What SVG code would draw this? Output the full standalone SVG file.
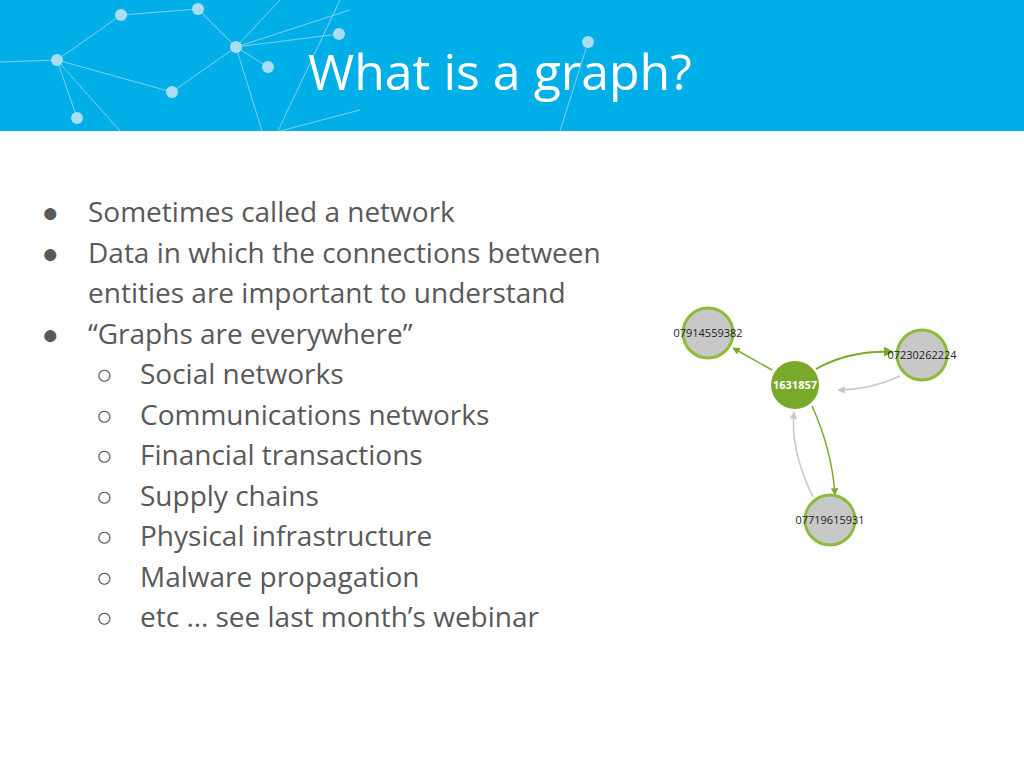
<svg xmlns="http://www.w3.org/2000/svg" width="1024" height="768" viewBox="0 0 1024 768">
<style>
.t{font-family:"Open Sans","Liberation Sans",sans-serif;font-size:28px;fill:#595959}
.l{font-family:"Open Sans","Liberation Sans",sans-serif;font-size:11px;fill:#222;text-anchor:middle}
.d{fill:#a8ddf3}
.dl{stroke:#7fd0ee;stroke-width:1;fill:none}
.n{fill:#c8c8c8;stroke:#8dbb3c;stroke-width:3}
</style>
<defs>
<marker id="ag" viewBox="0 0 10 10" refX="9" refY="5" markerWidth="5" markerHeight="5" orient="auto"><path d="M0,0L10,5L0,10z" fill="#7aaa2c"/></marker>
<marker id="ay" viewBox="0 0 10 10" refX="9" refY="5" markerWidth="5" markerHeight="5" orient="auto"><path d="M0,0L10,5L0,10z" fill="#c8c8c8"/></marker>
</defs>
<rect width="1024" height="768" fill="#fff"/>
<rect width="1024" height="131" fill="#00aee8"/>
<g class="dl">
<path d="M0,62L57,60L121,15L198,9L236,47L172,92L57,60L77,118M57,60L120,131M236,47L268,67M236,47L339,34M236,47L280,0M236,47L262,131M236,47L350,10M278,131L340,0M280,131L360,110M588,42L560,131"/>
</g>
<g>
<circle class="d" cx="121" cy="15" r="6"/><circle class="d" cx="198" cy="9" r="6"/><circle class="d" cx="57" cy="60" r="6"/><circle class="d" cx="236" cy="47" r="6"/><circle class="d" cx="172" cy="92" r="6"/><circle class="d" cx="77" cy="118" r="6"/><circle class="d" cx="268" cy="67" r="6"/><circle class="d" cx="339" cy="34" r="6"/><circle class="d" cx="588" cy="42" r="6"/>
</g>
<text x="308" y="90" font-family="'Open Sans','Liberation Sans',sans-serif" font-size="50" fill="#fff">What is a graph?</text>
<g class="t">
<text x="42" y="222">●</text><text x="88" y="222">Sometimes called a network</text>
<text x="42" y="263">●</text><text x="88" y="263">Data in which the connections between</text>
<text x="88" y="303">entities are important to understand</text>
<text x="42" y="344">●</text><text x="88" y="344">“Graphs are everywhere”</text>
<text x="96" y="384">○</text><text x="140" y="384">Social networks</text>
<text x="96" y="425">○</text><text x="140" y="425">Communications networks</text>
<text x="96" y="465">○</text><text x="140" y="465">Financial transactions</text>
<text x="96" y="506">○</text><text x="140" y="506">Supply chains</text>
<text x="96" y="546">○</text><text x="140" y="546">Physical infrastructure</text>
<text x="96" y="587">○</text><text x="140" y="587">Malware propagation</text>
<text x="96" y="627">○</text><text x="140" y="627">etc … see last month’s webinar</text>
</g>
<g id="connectors" fill="none" stroke-width="1.5">
<path d="M772,370L733,348" stroke="#7aaa2c" marker-end="url(#ag)"/>
<path d="M816,369Q850,350 893,352" stroke="#7aaa2c" stroke-width="2" marker-end="url(#ag)"/>
<path d="M900,376Q870,390 838,390" stroke="#c8c8c8" marker-end="url(#ay)"/>
<path d="M812,406Q832,450 835,495" stroke="#7aaa2c" marker-end="url(#ag)"/>
<path d="M813,497Q790,450 794,412" stroke="#c8c8c8" marker-end="url(#ay)"/>
</g>
<g id="n1"><circle class="n" cx="708" cy="333" r="25"/><text class="l" x="708" y="337">07914559382</text></g>
<g id="n2"><circle class="n" cx="922" cy="355" r="25"/><text class="l" x="922" y="359">07230262224</text></g>
<g id="n3"><circle class="n" cx="830" cy="520" r="25"/><text class="l" x="830" y="524">07719615931</text></g>
<g id="c"><circle cx="795" cy="385" r="24" fill="#78a92a"/><text class="l" x="795" y="389" fill="#fff" style="fill:#fff;font-weight:bold">1631857</text></g>
</svg>
